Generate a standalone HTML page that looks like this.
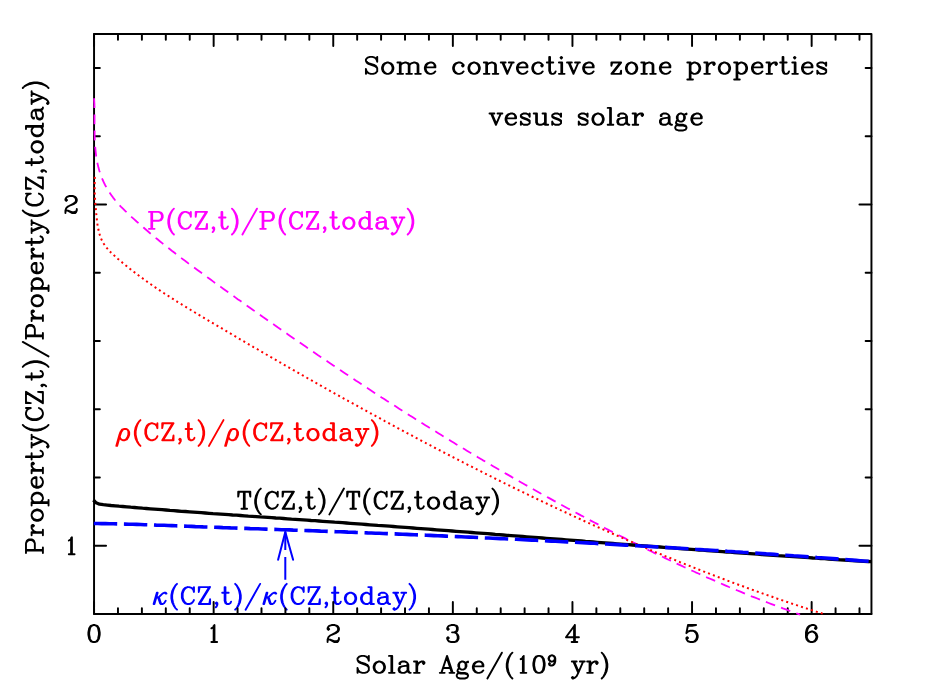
<!DOCTYPE html>
<html><head><meta charset="utf-8"><title>Convective zone properties versus solar age</title>
<style>
html,body{margin:0;padding:0;background:#fff;font-family:"Liberation Sans",sans-serif}
svg{display:block}
</style></head>
<body>
<svg width="926" height="692" viewBox="0 0 926 692" role="img" aria-label="Some convective zone properties vesus solar age">
<title>Some convective zone properties vesus solar age</title>
<desc>Property(CZ,t)/Property(CZ,today) against Solar Age/(10^9 yr). Curves: P(CZ,t)/P(CZ,today) magenta short-dashed; rho(CZ,t)/rho(CZ,today) red dotted; T(CZ,t)/T(CZ,today) black solid; kappa(CZ,t)/kappa(CZ,today) blue long-dashed.</desc>
<rect width="926" height="692" fill="#fff"/>
<defs>
<path id="g879" d="M4 -16 2 -14 0 -11 -2 -7 -3 -2 -3 2 -2 7 0 11 2 14 4 16M2 -14 0 -10 -1 -7 -2 -2 -2 2 -1 7 0 10 2 14"/>
<path id="g880" d="M-4 -16 -2 -14 0 -11 2 -7 3 -2 3 2 2 7 0 11 -2 14 -4 16M-2 -14 0 -10 1 -7 2 -2 2 2 1 7 0 10 -2 14"/>
<path id="g402" d="M0 9 -1 8 0 7 1 8 1 10 0 12 -1 13"/>
<path id="g230" d="M9 -16 -9 16"/>
<path id="g1024" d="M-1 -12 -4 -11 -6 -8 -7 -3 -7 0 -6 5 -4 8 -1 9 1 9 4 8 6 5 7 0 7 -3 6 -8 4 -11 1 -12 -1 -12M-1 -12 -3 -11 -4 -10 -5 -8 -6 -3 -6 0 -5 5 -4 7 -3 8 -1 9M1 9 3 8 4 7 5 5 6 0 6 -3 5 -8 4 -10 3 -11 1 -12"/>
<path id="g400" d="M-2.8 -8 -0.8 -9 1 -12 1 9M0 -11 0 9M-2.8 9 4.3 9"/>
<path id="g1025" d="M-6 -8 -5 -7 -6 -6 -7 -7 -7 -8 -6 -10 -5 -11 -2 -12 2 -12 5 -11 6 -10 7 -8 7 -6 6 -4 3 -2 -2 0 -4 1 -6 3 -7 6 -7 9M2 -12 4 -11 5 -10 6 -8 6 -6 5 -4 2 -2 -2 0M-7 7 -6 6 -4 6 1 8 4 8 6 7 7 6M-4 6 1 9 5 9 6 8 7 6 7 4"/>
<path id="g1026" d="M-6 -8 -5 -7 -6 -6 -7 -7 -7 -8 -6 -10 -5 -11 -2 -12 2 -12 5 -11 6 -9 6 -6 5 -4 2 -3 -1 -3M2 -12 4 -11 5 -9 5 -6 4 -4 2 -3M2 -3 4 -2 6 0 7 2 7 5 6 7 5 8 2 9 -2 9 -5 8 -6 7 -7 5 -7 4 -6 3 -5 4 -6 5M5 -1 6 2 6 5 5 7 4 8 2 9"/>
<path id="g401" d="M2 -10 2 9M3 -12 3 9M3 -12 -8 3 8 3M-1 9 6 9"/>
<path id="g1027" d="M-5 -12 -7 -2M-7 -2 -5 -4 -2 -5 1 -5 4 -4 6 -2 7 1 7 3 6 6 4 8 1 9 -2 9 -5 8 -6 7 -7 5 -7 4 -6 3 -5 4 -6 5M1 -5 3 -4 5 -2 6 1 6 3 5 6 3 8 1 9M-5 -12 5 -12M-5 -11 0 -11 5 -12"/>
<path id="g1028" d="M5 -9 4 -8 5 -7 6 -8 6 -9 5 -11 3 -12 0 -12 -3 -11 -5 -9 -6 -7 -7 -3 -7 3 -6 6 -4 8 -1 9 1 9 4 8 6 6 7 3 7 2 6 -1 4 -3 1 -4 0 -4 -3 -3 -5 -1 -6 2M0 -12 -2 -11 -4 -9 -5 -7 -6 -3 -6 3 -5 6 -3 8 -1 9M1 9 3 8 5 6 6 3 6 2 5 -1 3 -3 1 -4"/>
<path id="g1031" d="M6 -5 5 -2 3 0 0 1 -1 1 -4 0 -6 -2 -7 -5 -7 -6 -6 -9 -4 -11 -1 -12 1 -12 4 -11 6 -9 7 -6 7 0 6 4 5 6 3 8 0 9 -3 9 -5 8 -6 6 -6 5 -5 4 -4 5 -5 6M-1 1 -3 0 -5 -2 -6 -5 -6 -6 -5 -9 -3 -11 -1 -12M1 -12 3 -11 5 -9 6 -6 6 0 5 4 4 6 2 8 0 9"/>
<path id="g886" d="M0 -12 -7 9M0 -12 7 9M0 -9 6 9M-5 3 4 3M-9 9 -3 9M3 9 9 9"/>
<path id="g888" d="M6 -9 7 -6 7 -12 6 -9 4 -11 1 -12 -1 -12 -4 -11 -6 -9 -7 -7 -8 -4 -8 1 -7 4 -6 6 -4 8 -1 9 1 9 4 8 6 6 7 4M-1 -12 -3 -11 -5 -9 -6 -7 -7 -4 -7 1 -6 4 -5 6 -3 8 -1 9"/>
<path id="g899" d="M-6 -12 -6 9M-5 -12 -5 9M-9 -12 3 -12 6 -11 7 -10 8 -8 8 -5 7 -3 6 -2 3 -1 -5 -1M3 -12 5 -11 6 -10 7 -8 7 -5 6 -3 5 -2 3 -1M-9 9 -2 9"/>
<path id="g902" d="M6 -9 7 -12 7 -6 6 -9 4 -11 1 -12 -2 -12 -5 -11 -7 -9 -7 -7 -6 -5 -5 -4 -3 -3 3 -1 5 0 7 2M-7 -7 -5 -5 -3 -4 3 -2 5 -1 6 0 7 2 7 6 5 8 2 9 -1 9 -4 8 -6 6 -7 3 -7 9 -6 6"/>
<path id="g381" d="M0 -12 0 9M1 -12 1 9M-6 -12 -7 -6 -7 -12 8 -12 8 -6 7 -12M-3 9 4 9"/>
<path id="g383" d="M6 -12 -7 9M7 -12 -6 9M-6 -12 -7 -6 -7 -12 7 -12M-7 9 7 9 7 3 6 9"/>
<path id="g938" d="M-4 -3 -4 -2 -5 -2 -5 -3 -4 -4 -2 -5 2 -5 4 -4 5 -3 6 -1 6 6 7 8 8 9M5 -3 5 6 6 8 8 9 9 9M5 -1 4 0 -2 1 -5 2 -6 4 -6 6 -5 8 -2 9 1 9 3 8 5 6M-2 1 -4 2 -5 4 -5 6 -4 8 -2 9"/>
<path id="g940" d="M5 -2 4 -1 5 0 6 -1 6 -2 4 -4 2 -5 -1 -5 -4 -4 -6 -2 -7 1 -7 3 -6 6 -4 8 -1 9 1 9 4 8 6 6M-1 -5 -3 -4 -5 -2 -6 1 -6 3 -5 6 -3 8 -1 9"/>
<path id="g941" d="M5 -12 5 9M6 -12 6 9M5 -2 3 -4 1 -5 -1 -5 -4 -4 -6 -2 -7 1 -7 3 -6 6 -4 8 -1 9 1 9 3 8 5 6M-1 -5 -3 -4 -5 -2 -6 1 -6 3 -5 6 -3 8 -1 9M2 -12 6 -12M5 9 9 9"/>
<path id="g942" d="M-6 1 6 1 6 -1 5 -3 4 -4 2 -5 -1 -5 -4 -4 -6 -2 -7 1 -7 3 -6 6 -4 8 -1 9 1 9 4 8 6 6M5 1 5 -2 4 -4M-1 -5 -3 -4 -5 -2 -6 1 -6 3 -5 6 -3 8 -1 9"/>
<path id="g944" d="M-1 -5 -3 -4 -4 -3 -5 -1 -5 1 -4 3 -3 4 -1 5 1 5 3 4 4 3 5 1 5 -1 4 -3 3 -4 1 -5 -1 -5M-3 -4 -4 -2 -4 2 -3 4M3 4 4 2 4 -2 3 -4M4 -3 5 -4 7 -5 7 -4 5 -4M-4 3 -5 4 -6 6 -6 7 -5 9 -2 10 3 10 6 11 7 12M-6 7 -5 8 -2 9 3 9 6 10 7 12 7 13 6 15 3 16 -3 16 -6 15 -7 13 -7 12 -6 10 -3 9"/>
<path id="g946" d="M0 -12 -1 -11 0 -10 1 -11 0 -12M0 -5 0 9M1 -5 1 9M-3 -5 1 -5M-3 9 4 9"/>
<path id="g394" d="M0 -12 0 9M1 -12 1 9M-3 -12 1 -12M-3 9 4 9"/>
<path id="g949" d="M-11 -5 -11 9M-10 -5 -10 9M-10 -2 -8 -4 -5 -5 -3 -5 0 -4 1 -2 1 9M-3 -5 -1 -4 0 -2 0 9M1 -2 3 -4 6 -5 8 -5 11 -4 12 -2 12 9M8 -5 10 -4 11 -2 11 9M-14 -5 -10 -5M-14 9 -7 9M-3 9 4 9M8 9 15 9"/>
<path id="g950" d="M-6 -5 -6 9M-5 -5 -5 9M-5 -2 -3 -4 0 -5 2 -5 5 -4 6 -2 6 9M2 -5 4 -4 5 -2 5 9M-9 -5 -5 -5M-9 9 -2 9M2 9 9 9"/>
<path id="g951" d="M-1 -5 -4 -4 -6 -2 -7 1 -7 3 -6 6 -4 8 -1 9 1 9 4 8 6 6 7 3 7 1 6 -2 4 -4 1 -5 -1 -5M-1 -5 -3 -4 -5 -2 -6 1 -6 3 -5 6 -3 8 -1 9M1 9 3 8 5 6 6 3 6 1 5 -2 3 -4 1 -5"/>
<path id="g952" d="M-6 -5 -6 16M-5 -5 -5 16M-5 -2 -3 -4 -1 -5 1 -5 4 -4 6 -2 7 1 7 3 6 6 4 8 1 9 -1 9 -3 8 -5 6M1 -5 3 -4 5 -2 6 1 6 3 5 6 3 8 1 9M-9 -5 -5 -5M-9 16 -2 16"/>
<path id="g954" d="M-4 -5 -4 9M-3 -5 -3 9M-3 1 -2 -2 0 -4 2 -5 5 -5 6 -4 6 -3 5 -2 4 -3 5 -4M-7 -5 -3 -5M-7 9 0 9"/>
<path id="g955" d="M5 -3 6 -5 6 -1 5 -3 4 -4 2 -5 -2 -5 -4 -4 -5 -3 -5 -1 -4 0 -2 1 3 3 5 4 6 5M-5 -2 -4 -1 -2 0 3 2 5 3 6 4 6 7 5 8 3 9 -1 9 -3 8 -4 7 -5 5 -5 9 -4 7"/>
<path id="g956" d="M-2 -12 -2 5 -1 8 1 9 3 9 5 8 6 6M-1 -12 -1 5 0 8 1 9M-5 -5 3 -5"/>
<path id="g957" d="M-6 -5 -6 6 -5 8 -2 9 0 9 3 8 5 6M-5 -5 -5 6 -4 8 -2 9M5 -5 5 9M6 -5 6 9M-9 -5 -5 -5M2 -5 6 -5M5 9 9 9"/>
<path id="g395" d="M-6 -5 0 9M-5 -5 0 7M6 -5 0 9M-8 -5 -2 -5M2 -5 8 -5"/>
<path id="g960" d="M-6 -5 0 9M-5 -5 0 7M6 -5 0 9 -2 13 -4 15 -6 16 -7 16 -8 15 -7 14 -6 15M-8 -5 -2 -5M2 -5 8 -5"/>
<path id="g396" d="M5 -5 -6 9M6 -5 -5 9M-5 -5 -6 -1 -6 -5 6 -5M-6 9 6 9 6 5 5 9"/>
<path id="g969" d="M-4 -5 -8 9M-3 -5 -7 9M6 -5 7 -4 8 -4 7 -5 5 -5 3 -4 -1 0 -3 1 -5 1M-3 1 -1 2 1 8 2 9M-3 1 -2 2 0 8 1 9 3 9 5 8 7 5"/>
<path id="g976" d="M-6 4 -5 7 -4 8 -2 9 0 9 3 8 5 5 6 2 6 -1 5 -3 4 -4 2 -5 0 -5 -3 -4 -5 -1 -6 2 -10 16M0 9 2 8 4 5 5 2 5 -2 4 -4M0 -5 -2 -4 -4 -1 -5 2 -9 16"/>
</defs>
<g fill="none" stroke-linecap="round" stroke-linejoin="round">
<g transform="translate(363.50 73.85) translate(0 -7.268) scale(0.8075)" stroke="#000" stroke-width="2.353">
<use href="#g902" x="10.00"/>
<use href="#g951" x="30.00"/>
<use href="#g949" x="56.00"/>
<use href="#g942" x="83.00"/>
<use href="#g940" x="118.00"/>
<use href="#g951" x="137.00"/>
<use href="#g950" x="158.00"/>
<use href="#g395" x="178.00"/>
<use href="#g942" x="197.00"/>
<use href="#g940" x="216.00"/>
<use href="#g956" x="232.00"/>
<use href="#g946" x="245.00"/>
<use href="#g395" x="260.00"/>
<use href="#g942" x="279.00"/>
<use href="#g396" x="313.00"/>
<use href="#g951" x="332.00"/>
<use href="#g950" x="353.00"/>
<use href="#g942" x="374.00"/>
<use href="#g952" x="410.00"/>
<use href="#g954" x="429.00"/>
<use href="#g951" x="447.00"/>
<use href="#g952" x="468.00"/>
<use href="#g942" x="488.00"/>
<use href="#g954" x="506.00"/>
<use href="#g956" x="521.00"/>
<use href="#g946" x="534.00"/>
<use href="#g942" x="550.00"/>
<use href="#g955" x="567.00"/>
</g>
<g transform="translate(488.70 124.80) translate(0 -7.236) scale(0.804)" stroke="#000" stroke-width="2.363">
<use href="#g395" x="9.00"/>
<use href="#g942" x="28.00"/>
<use href="#g955" x="45.00"/>
<use href="#g957" x="65.00"/>
<use href="#g955" x="84.00"/>
<use href="#g955" x="117.00"/>
<use href="#g951" x="136.00"/>
<use href="#g394" x="151.00"/>
<use href="#g938" x="166.00"/>
<use href="#g954" x="186.00"/>
<use href="#g938" x="219.00"/>
<use href="#g944" x="239.00"/>
<use href="#g942" x="259.00"/>
</g>
<g transform="translate(355.10 672.85) translate(0 -7.259) scale(0.8066)" stroke="#000" stroke-width="2.356">
<use href="#g902" x="10.00"/>
<use href="#g951" x="30.00"/>
<use href="#g394" x="45.00"/>
<use href="#g938" x="60.00"/>
<use href="#g954" x="80.00"/>
<use href="#g886" x="114.00"/>
<use href="#g944" x="133.00"/>
<use href="#g942" x="153.00"/>
<use href="#g230" x="173.00"/>
<use href="#g879" x="191.00"/>
<use href="#g400" x="208.00"/>
<use href="#g1024" x="228.00"/>
<use href="#g1031" transform="translate(244.00 -5.50) scale(0.6)" stroke-width="3.926"/>
<use href="#g960" x="276.70"/>
<use href="#g954" x="294.70"/>
<use href="#g880" x="309.70"/>
</g>
<g transform="translate(94.05 642.05) translate(0 -7.290) scale(0.81)" stroke="#000" stroke-width="2.346">
<use href="#g1024" x="0.00"/>
</g>
<g transform="translate(213.65 642.05) translate(0 -7.290) scale(0.81)" stroke="#000" stroke-width="2.346">
<use href="#g400" x="0.00"/>
</g>
<g transform="translate(333.25 642.05) translate(0 -7.290) scale(0.81)" stroke="#000" stroke-width="2.346">
<use href="#g1025" x="0.00"/>
</g>
<g transform="translate(452.85 642.05) translate(0 -7.290) scale(0.81)" stroke="#000" stroke-width="2.346">
<use href="#g1026" x="0.00"/>
</g>
<g transform="translate(572.45 642.05) translate(0 -7.290) scale(0.81)" stroke="#000" stroke-width="2.346">
<use href="#g401" x="0.00"/>
</g>
<g transform="translate(692.05 642.05) translate(0 -7.290) scale(0.81)" stroke="#000" stroke-width="2.346">
<use href="#g1027" x="0.00"/>
</g>
<g transform="translate(811.65 642.05) translate(0 -7.290) scale(0.81)" stroke="#000" stroke-width="2.346">
<use href="#g1028" x="0.00"/>
</g>
<g transform="translate(71.10 213.02) translate(0 -7.290) scale(0.81)" stroke="#000" stroke-width="2.346">
<use href="#g1025" x="0.00"/>
</g>
<g transform="translate(71.10 554.26) translate(0 -7.290) scale(0.81)" stroke="#000" stroke-width="2.346">
<use href="#g400" x="0.00"/>
</g>
<g transform="translate(42.90 554.67) rotate(-90) translate(0 -7.254) scale(0.806)" stroke="#000" stroke-width="2.357">
<use href="#g899" x="11.00"/>
<use href="#g954" x="31.00"/>
<use href="#g951" x="49.00"/>
<use href="#g952" x="70.00"/>
<use href="#g942" x="90.00"/>
<use href="#g954" x="108.00"/>
<use href="#g956" x="123.00"/>
<use href="#g960" x="141.00"/>
<use href="#g879" x="157.00"/>
<use href="#g888" x="175.00"/>
<use href="#g383" x="195.00"/>
<use href="#g402" x="210.00"/>
<use href="#g956" x="222.00"/>
<use href="#g880" x="237.00"/>
<use href="#g230" x="255.00"/>
<use href="#g899" x="277.00"/>
<use href="#g954" x="297.00"/>
<use href="#g951" x="315.00"/>
<use href="#g952" x="336.00"/>
<use href="#g942" x="356.00"/>
<use href="#g954" x="374.00"/>
<use href="#g956" x="389.00"/>
<use href="#g960" x="407.00"/>
<use href="#g879" x="423.00"/>
<use href="#g888" x="441.00"/>
<use href="#g383" x="461.00"/>
<use href="#g402" x="476.00"/>
<use href="#g956" x="488.00"/>
<use href="#g951" x="506.00"/>
<use href="#g941" x="526.00"/>
<use href="#g938" x="546.00"/>
<use href="#g960" x="567.00"/>
<use href="#g880" x="583.00"/>
</g>
<g transform="translate(147.33 228.85) translate(0 -7.254) scale(0.806)" stroke="#ff00ff" stroke-width="2.357">
<use href="#g899" x="11.00"/>
<use href="#g879" x="29.00"/>
<use href="#g888" x="47.00"/>
<use href="#g383" x="67.00"/>
<use href="#g402" x="82.00"/>
<use href="#g956" x="94.00"/>
<use href="#g880" x="109.00"/>
<use href="#g230" x="127.00"/>
<use href="#g899" x="149.00"/>
<use href="#g879" x="167.00"/>
<use href="#g888" x="185.00"/>
<use href="#g383" x="205.00"/>
<use href="#g402" x="220.00"/>
<use href="#g956" x="232.00"/>
<use href="#g951" x="250.00"/>
<use href="#g941" x="270.00"/>
<use href="#g938" x="290.00"/>
<use href="#g960" x="311.00"/>
<use href="#g880" x="327.00"/>
</g>
<g transform="translate(116.30 440.25) translate(0 -7.254) scale(0.806)" stroke="#ff0000" stroke-width="2.357">
<use href="#g976" x="10.00"/>
<use href="#g879" x="26.00"/>
<use href="#g888" x="44.00"/>
<use href="#g383" x="64.00"/>
<use href="#g402" x="79.00"/>
<use href="#g956" x="91.00"/>
<use href="#g880" x="106.00"/>
<use href="#g230" x="124.00"/>
<use href="#g976" x="145.00"/>
<use href="#g879" x="161.00"/>
<use href="#g888" x="179.00"/>
<use href="#g383" x="199.00"/>
<use href="#g402" x="214.00"/>
<use href="#g956" x="226.00"/>
<use href="#g951" x="244.00"/>
<use href="#g941" x="264.00"/>
<use href="#g938" x="284.00"/>
<use href="#g960" x="305.00"/>
<use href="#g880" x="321.00"/>
</g>
<g transform="translate(236.60 508.75) translate(0 -7.263) scale(0.807)" stroke="#000" stroke-width="2.354">
<use href="#g381" x="9.00"/>
<use href="#g879" x="26.00"/>
<use href="#g888" x="44.00"/>
<use href="#g383" x="64.00"/>
<use href="#g402" x="79.00"/>
<use href="#g956" x="91.00"/>
<use href="#g880" x="106.00"/>
<use href="#g230" x="124.00"/>
<use href="#g381" x="144.00"/>
<use href="#g879" x="161.00"/>
<use href="#g888" x="179.00"/>
<use href="#g383" x="199.00"/>
<use href="#g402" x="214.00"/>
<use href="#g956" x="226.00"/>
<use href="#g951" x="244.00"/>
<use href="#g941" x="264.00"/>
<use href="#g938" x="284.00"/>
<use href="#g960" x="305.00"/>
<use href="#g880" x="321.00"/>
</g>
<g transform="translate(152.00 604.05) translate(0 -7.263) scale(0.807)" stroke="#0000ff" stroke-width="2.354">
<use href="#g969" x="10.00"/>
<use href="#g879" x="27.00"/>
<use href="#g888" x="45.00"/>
<use href="#g383" x="65.00"/>
<use href="#g402" x="80.00"/>
<use href="#g956" x="92.00"/>
<use href="#g880" x="107.00"/>
<use href="#g230" x="125.00"/>
<use href="#g969" x="146.00"/>
<use href="#g879" x="163.00"/>
<use href="#g888" x="181.00"/>
<use href="#g383" x="201.00"/>
<use href="#g402" x="216.00"/>
<use href="#g956" x="228.00"/>
<use href="#g951" x="246.00"/>
<use href="#g941" x="266.00"/>
<use href="#g938" x="286.00"/>
<use href="#g960" x="307.00"/>
<use href="#g880" x="323.00"/>
</g>
</g>
<g fill="none" stroke="#000" stroke-width="1.95" stroke-linecap="round" stroke-linejoin="round">
<path d="M94.05 33.9H871.45V614.0H94.05Z"/>
<path d="M94.05 614.0v-12.0M94.05 33.9v12.0M117.97 614.0v-5.8M117.97 33.9v5.8M141.89 614.0v-5.8M141.89 33.9v5.8M165.81 614.0v-5.8M165.81 33.9v5.8M189.73 614.0v-5.8M189.73 33.9v5.8M213.65 614.0v-12.0M213.65 33.9v12.0M237.57 614.0v-5.8M237.57 33.9v5.8M261.49 614.0v-5.8M261.49 33.9v5.8M285.41 614.0v-5.8M285.41 33.9v5.8M309.33 614.0v-5.8M309.33 33.9v5.8M333.25 614.0v-12.0M333.25 33.9v12.0M357.17 614.0v-5.8M357.17 33.9v5.8M381.09 614.0v-5.8M381.09 33.9v5.8M405.01 614.0v-5.8M405.01 33.9v5.8M428.93 614.0v-5.8M428.93 33.9v5.8M452.85 614.0v-12.0M452.85 33.9v12.0M476.77 614.0v-5.8M476.77 33.9v5.8M500.69 614.0v-5.8M500.69 33.9v5.8M524.61 614.0v-5.8M524.61 33.9v5.8M548.53 614.0v-5.8M548.53 33.9v5.8M572.45 614.0v-12.0M572.45 33.9v12.0M596.37 614.0v-5.8M596.37 33.9v5.8M620.29 614.0v-5.8M620.29 33.9v5.8M644.21 614.0v-5.8M644.21 33.9v5.8M668.13 614.0v-5.8M668.13 33.9v5.8M692.05 614.0v-12.0M692.05 33.9v12.0M715.97 614.0v-5.8M715.97 33.9v5.8M739.89 614.0v-5.8M739.89 33.9v5.8M763.81 614.0v-5.8M763.81 33.9v5.8M787.73 614.0v-5.8M787.73 33.9v5.8M811.65 614.0v-12.0M811.65 33.9v12.0M835.57 614.0v-5.8M835.57 33.9v5.8M859.49 614.0v-5.8M859.49 33.9v5.8M94.05 614.00h5.8M871.45 614.00h-5.8M94.05 545.75h12.0M871.45 545.75h-12.0M94.05 477.51h5.8M871.45 477.51h-5.8M94.05 409.26h5.8M871.45 409.26h-5.8M94.05 341.01h5.8M871.45 341.01h-5.8M94.05 272.76h5.8M871.45 272.76h-5.8M94.05 204.52h12.0M871.45 204.52h-12.0M94.05 136.27h5.8M871.45 136.27h-5.8M94.05 68.02h5.8M871.45 68.02h-5.8"/>
</g>
<g fill="none" stroke-linecap="butt" stroke-linejoin="round">
<path d="M94.1 98.2 94.2 101.0 94.4 104.0 94.4 106.9 94.5 109.9 94.5 112.9 94.5 116.0 94.5 119.0 94.5 122.1 94.5 125.2 94.5 128.3 94.6 131.4 94.6 134.5 94.7 137.6 94.8 140.7 95.0 143.8 95.2 146.9 95.5 150.0 95.8 153.1 96.2 156.1 96.7 159.2 97.2 162.2 97.9 165.2 98.6 168.1 99.4 171.0 100.4 173.9 101.4 176.8 102.5 179.5 103.8 182.3 105.1 185.0 106.5 187.6 108.0 190.2 109.7 192.7 111.4 195.2 113.1 197.6 115.0 200.0 117.0 202.3 119.0 204.6 121.1 206.8 123.2 208.9 125.4 211.1 127.6 213.2 129.8 215.3 132.0 217.4 134.3 219.4 136.6 221.5 138.9 223.5 141.2 225.5 143.5 227.5 145.8 229.5 148.1 231.5 150.4 233.5 152.8 235.4 155.1 237.4 157.5 239.3 159.8 241.2 162.2 243.1 164.6 245.0 167.0 246.9 169.4 248.8 171.8 250.7 174.2 252.5 176.6 254.4 179.0 256.3 181.4 258.1 183.9 259.9 186.3 261.8 188.7 263.6 191.2 265.4 193.6 267.2 196.1 269.0 198.5 270.8 201.0 272.6 203.5 274.4 205.9 276.2 208.4 278.0 210.9 279.8 213.3 281.6 215.8 283.4 218.3 285.2 220.8 286.9 223.2 288.7 225.7 290.5 228.2 292.3 230.7 294.0 233.2 295.8 235.6 297.6 238.1 299.4 240.6 301.1 243.1 302.9 245.6 304.7 248.1 306.4 250.6 308.2 253.0 309.9 255.5 311.7 258.0 313.5 260.5 315.2 263.0 317.0 265.5 318.7 268.0 320.5 270.5 322.2 273.0 324.0 275.5 325.7 278.0 327.5 280.5 329.2 283.0 331.0 285.5 332.7 288.0 334.4 290.5 336.2 293.0 337.9 295.5 339.6 298.0 341.4 300.5 343.1 303.0 344.8 305.6 346.6 308.1 348.3 310.6 350.0 313.1 351.7 315.6 353.4 318.1 355.2 320.7 356.9 323.2 358.6 325.7 360.3 328.2 362.0 330.8 363.7 333.3 365.4 335.8 367.1 338.4 368.8 340.9 370.5 343.4 372.2 346.0 373.9 348.5 375.6 351.0 377.3 353.6 379.0 356.1 380.7 358.6 382.3 361.2 384.0 363.7 385.7 366.3 387.4 368.8 389.0 371.4 390.7 373.9 392.4 376.5 394.1 379.0 395.7 381.6 397.4 384.2 399.0 386.7 400.7 389.3 402.3 391.8 404.0 394.4 405.6 397.0 407.3 399.5 408.9 402.1 410.6 404.7 412.2 407.3 413.8 409.8 415.5 412.4 417.1 415.0 418.7 417.6 420.4 420.1 422.0 422.7 423.6 425.3 425.2 427.9 426.8 430.5 428.4 433.1 430.0 435.7 431.6 438.3 433.2 440.9 434.8 443.5 436.4 446.1 438.0 448.7 439.6 451.3 441.2 453.9 442.8 456.5 444.4 459.1 446.0 461.7 447.5 464.3 449.1 466.9 450.7 469.5 452.3 472.1 453.8 474.8 455.4 477.4 456.9 480.0 458.5 482.6 460.1 485.3 461.6 487.9 463.1 490.5 464.7 493.1 466.2 495.8 467.8 498.4 469.3 501.0 470.8 503.7 472.4 506.3 473.9 509.0 475.4 511.6 476.9 514.2 478.5 516.9 480.0 519.5 481.5 522.2 483.0 524.8 484.5 527.5 486.0 530.2 487.5 532.8 489.0 535.5 490.5 538.1 492.0 540.8 493.5 543.5 494.9 546.1 496.4 548.8 497.9 551.5 499.4 554.1 500.9 556.8 502.3 559.5 503.8 562.1 505.2 564.8 506.7 567.5 508.2 570.2 509.6 572.9 511.1 575.6 512.5 578.2 513.9 580.9 515.4 583.6 516.8 586.3 518.3 589.0 519.7 591.7 521.1 594.4 522.5 597.1 523.9 599.8 525.4 602.5 526.8 605.2 528.2 607.9 529.6 610.6 531.0 613.3 532.4 616.0 533.8 618.8 535.2 621.5 536.5 624.2 537.9 626.9 539.3 629.6 540.7 632.4 542.1 635.1 543.4 637.8 544.8 640.5 546.1 643.3 547.5 646.0 548.8 648.7 550.2 651.5 551.5 654.2 552.9 657.0 554.2 659.7 555.5 662.5 556.8 665.2 558.1 668.0 559.5 670.7 560.8 673.5 562.1 676.2 563.4 679.0 564.6 681.8 565.9 684.5 567.2 687.3 568.5 690.1 569.8 692.8 571.0 695.6 572.3 698.4 573.5 701.2 574.8 703.9 576.0 706.7 577.3 709.5 578.5 712.3 579.7 715.1 580.9 717.9 582.2 720.7 583.4 723.5 584.6 726.3 585.8 729.1 587.0 731.9 588.1 734.7 589.3 737.5 590.5 740.4 591.7 743.2 592.8 746.0 594.0 748.8 595.1 751.6 596.3 754.5 597.4 757.3 598.5 760.1 599.7 763.0 600.8 765.8 601.9 768.7 603.0 771.5 604.1 774.4 605.2 777.2 606.2 780.1 607.3 782.9 608.4 785.8 609.4 788.7 610.5 791.5 611.5 794.4 612.6 797.3 613.6 800.1 614.6" stroke="#ff00ff" stroke-width="1.8" stroke-dasharray="9.8 6.4"/>
<path d="M94.8 176.9 94.7 180.0 94.7 183.0 94.6 185.9 94.7 188.9 94.7 191.8 94.8 194.7 95.0 197.5 95.1 200.4 95.3 203.3 95.6 206.1 95.8 209.0 96.1 212.0 96.4 215.0 96.7 218.0 97.0 221.0 97.4 224.1 97.9 227.1 98.5 230.1 99.2 233.1 100.1 235.9 101.1 238.7 102.3 241.3 103.8 243.8 105.4 246.2 107.2 248.4 109.1 250.6 111.2 252.7 113.3 254.7 115.5 256.7 117.7 258.7 120.0 260.6 122.2 262.5 124.5 264.4 126.8 266.2 129.1 268.1 131.4 269.9 133.7 271.7 136.1 273.5 138.4 275.3 140.8 277.0 143.2 278.8 145.5 280.5 147.9 282.2 150.3 283.9 152.8 285.6 155.2 287.3 157.6 288.9 160.1 290.6 162.5 292.2 165.0 293.8 167.5 295.4 169.9 297.0 172.4 298.6 174.9 300.2 177.4 301.8 179.9 303.3 182.4 304.9 184.9 306.4 187.4 308.0 190.0 309.5 192.5 311.0 195.0 312.5 197.5 314.1 200.1 315.6 202.6 317.1 205.1 318.6 207.7 320.1 210.2 321.6 212.8 323.1 215.3 324.6 217.9 326.1 220.4 327.6 223.0 329.1 225.5 330.6 228.0 332.1 230.6 333.6 233.1 335.1 235.7 336.6 238.2 338.1 240.8 339.6 243.3 341.1 245.9 342.6 248.4 344.1 251.0 345.6 253.5 347.1 256.1 348.5 258.6 350.0 261.2 351.5 263.8 353.0 266.3 354.5 268.9 356.0 271.4 357.4 274.0 358.9 276.5 360.4 279.1 361.9 281.7 363.3 284.2 364.8 286.8 366.3 289.4 367.8 291.9 369.2 294.5 370.7 297.1 372.2 299.6 373.6 302.2 375.1 304.8 376.5 307.3 378.0 309.9 379.5 312.5 380.9 315.0 382.4 317.6 383.8 320.2 385.3 322.7 386.7 325.3 388.2 327.9 389.6 330.5 391.1 333.1 392.5 335.6 394.0 338.2 395.4 340.8 396.8 343.4 398.3 345.9 399.7 348.5 401.2 351.1 402.6 353.7 404.0 356.3 405.4 358.9 406.9 361.5 408.3 364.0 409.7 366.6 411.1 369.2 412.6 371.8 414.0 374.4 415.4 377.0 416.8 379.6 418.2 382.2 419.6 384.8 421.1 387.4 422.5 390.0 423.9 392.6 425.3 395.2 426.7 397.8 428.1 400.4 429.5 403.0 430.9 405.6 432.3 408.2 433.7 410.8 435.0 413.4 436.4 416.0 437.8 418.6 439.2 421.2 440.6 423.8 442.0 426.4 443.3 429.0 444.7 431.7 446.1 434.3 447.5 436.9 448.8 439.5 450.2 442.1 451.6 444.7 452.9 447.4 454.3 450.0 455.6 452.6 457.0 455.2 458.3 457.9 459.7 460.5 461.0 463.1 462.4 465.7 463.7 468.4 465.1 471.0 466.4 473.6 467.7 476.3 469.1 478.9 470.4 481.5 471.7 484.2 473.1 486.8 474.4 489.4 475.7 492.1 477.0 494.7 478.3 497.4 479.6 500.0 481.0 502.6 482.3 505.3 483.6 507.9 484.9 510.6 486.2 513.2 487.5 515.9 488.8 518.5 490.1 521.2 491.3 523.8 492.6 526.5 493.9 529.2 495.2 531.8 496.5 534.5 497.8 537.1 499.0 539.8 500.3 542.5 501.6 545.1 502.8 547.8 504.1 550.5 505.4 553.1 506.6 555.8 507.9 558.5 509.1 561.1 510.4 563.8 511.6 566.5 512.8 569.2 514.1 571.8 515.3 574.5 516.6 577.2 517.8 579.9 519.0 582.6 520.2 585.2 521.5 587.9 522.7 590.6 523.9 593.3 525.1 596.0 526.3 598.7 527.5 601.4 528.7 604.1 529.9 606.8 531.1 609.5 532.3 612.2 533.5 614.9 534.7 617.6 535.9 620.3 537.0 623.0 538.2 625.7 539.4 628.4 540.6 631.1 541.7 633.8 542.9 636.5 544.1 639.2 545.2 641.9 546.4 644.7 547.5 647.4 548.7 650.1 549.8 652.8 550.9 655.5 552.1 658.3 553.2 661.0 554.3 663.7 555.5 666.4 556.6 669.2 557.7 671.9 558.8 674.6 559.9 677.4 561.0 680.1 562.2 682.9 563.3 685.6 564.4 688.3 565.4 691.1 566.5 693.8 567.6 696.6 568.7 699.3 569.8 702.1 570.9 704.8 571.9 707.6 573.0 710.3 574.1 713.1 575.1 715.8 576.2 718.6 577.2 721.3 578.3 724.1 579.3 726.9 580.4 729.6 581.4 732.4 582.5 735.2 583.5 737.9 584.5 740.7 585.5 743.5 586.5 746.3 587.6 749.0 588.6 751.8 589.6 754.6 590.6 757.4 591.6 760.2 592.6 763.0 593.6 765.7 594.6 768.5 595.5 771.3 596.5 774.1 597.5 776.9 598.5 779.7 599.4 782.5 600.4 785.3 601.4 788.1 602.3 790.9 603.3 793.7 604.2 796.5 605.1 799.3 606.1 802.1 607.0 805.0 607.9 807.8 608.9 810.6 609.8 813.4 610.7 816.2 611.6 819.0 612.5 821.9 613.4 824.7 614.3" stroke="#ff0000" stroke-width="2.0" stroke-dasharray="2.0 3.2"/>
<path d="M93.4 500.0 96.1 502.8 99.5 504.2 103.3 504.7 107.2 505.1 111.1 505.5 115.1 505.8 119.0 506.2 122.9 506.5 126.8 506.8 130.7 507.2 134.6 507.5 138.5 507.8 142.5 508.2 146.4 508.5 150.3 508.8 154.2 509.1 158.1 509.4 162.0 509.7 166.0 510.0 169.9 510.4 173.8 510.7 177.7 511.0 181.6 511.3 185.6 511.5 189.5 511.8 193.4 512.1 197.3 512.4 201.2 512.7 205.2 513.0 209.1 513.3 213.0 513.6 216.9 513.8 220.8 514.1 224.8 514.4 228.7 514.7 232.6 515.0 236.5 515.2 240.5 515.5 244.4 515.8 248.3 516.1 252.2 516.3 256.1 516.6 260.1 516.9 264.0 517.1 267.9 517.4 271.8 517.7 275.8 518.0 279.7 518.2 283.6 518.5 287.5 518.8 291.5 519.1 295.4 519.3 299.3 519.6 303.2 519.9 307.1 520.2 311.1 520.5 315.0 520.7 318.9 521.0 322.8 521.3 326.8 521.6 330.7 521.9 334.6 522.2 338.5 522.4 342.4 522.7 346.4 523.0 350.3 523.3 354.2 523.6 358.1 523.9 362.0 524.2 366.0 524.5 369.9 524.8 373.8 525.1 377.7 525.4 381.6 525.6 385.6 525.9 389.5 526.2 393.4 526.5 397.3 526.8 401.3 527.1 405.2 527.4 409.1 527.7 413.0 528.0 416.9 528.3 420.9 528.6 424.8 528.9 428.7 529.2 432.6 529.5 436.5 529.8 440.5 530.1 444.4 530.4 448.3 530.7 452.2 531.0 456.1 531.3 460.0 531.6 464.0 531.9 467.9 532.2 471.8 532.5 475.7 532.8 479.6 533.1 483.6 533.4 487.5 533.7 491.4 534.0 495.3 534.4 499.2 534.7 503.2 535.0 507.1 535.3 511.0 535.6 514.9 535.9 518.8 536.2 522.8 536.5 526.7 536.8 530.6 537.1 534.5 537.4 538.4 537.7 542.3 538.0 546.3 538.3 550.2 538.6 554.1 538.9 558.0 539.2 561.9 539.5 565.9 539.8 569.8 540.1 573.7 540.4 577.6 540.7 581.5 541.0 585.5 541.4 589.4 541.7 593.3 542.0 597.2 542.3 601.1 542.6 605.1 542.9 609.0 543.2 612.9 543.5 616.8 543.8 620.7 544.1 624.6 544.4 628.6 544.7 632.5 545.0 636.4 545.3 640.3 545.6 644.2 545.9 648.2 546.2 652.1 546.4 656.0 546.7 659.9 547.0 663.8 547.3 667.8 547.6 671.7 547.9 675.6 548.2 679.5 548.5 683.4 548.8 687.4 549.1 691.3 549.4 695.2 549.7 699.1 550.0 703.0 550.2 707.0 550.5 710.9 550.8 714.8 551.1 718.7 551.4 722.6 551.7 726.6 552.0 730.5 552.2 734.4 552.5 738.3 552.8 742.3 553.1 746.2 553.4 750.1 553.6 754.0 553.9 757.9 554.2 761.9 554.5 765.8 554.8 769.7 555.0 773.6 555.3 777.5 555.6 781.5 555.8 785.4 556.1 789.3 556.4 793.2 556.6 797.2 556.9 801.1 557.2 805.0 557.4 808.9 557.7 812.8 558.0 816.8 558.2 820.7 558.5 824.6 558.7 828.5 559.0 832.5 559.3 836.4 559.5 840.3 559.8 844.2 560.0 848.2 560.3 852.1 560.5 856.0 560.8 859.9 561.0 863.9 561.3 867.8 561.5 871.7 561.7" stroke="#000" stroke-width="3.3" stroke-linecap="butt"/>
<path d="M93.8 523.5 97.7 523.5 101.6 523.6 105.5 523.6 109.4 523.7 113.3 523.8 117.2 523.9 121.1 524.0 125.0 524.1 128.9 524.2 132.8 524.3 136.7 524.4 140.6 524.5 144.5 524.7 148.4 524.8 152.3 524.9 156.2 525.1 160.1 525.2 164.1 525.3 168.0 525.5 171.9 525.6 175.8 525.8 179.7 525.9 183.6 526.1 187.6 526.2 191.5 526.4 195.4 526.6 199.3 526.7 203.2 526.9 207.1 527.0 211.0 527.1 215.0 527.3 218.9 527.4 222.8 527.6 226.7 527.7 230.6 527.9 234.5 528.0 238.4 528.2 242.4 528.3 246.3 528.4 250.2 528.6 254.1 528.7 258.0 528.8 261.9 529.0 265.8 529.1 269.7 529.3 273.7 529.4 277.6 529.5 281.5 529.7 285.4 529.8 289.3 529.9 293.2 530.1 297.1 530.2 301.0 530.4 305.0 530.5 308.9 530.6 312.8 530.8 316.7 530.9 320.6 531.1 324.5 531.2 328.4 531.4 332.3 531.5 336.2 531.7 340.2 531.8 344.1 531.9 348.0 532.1 351.9 532.2 355.8 532.4 359.7 532.5 363.6 532.7 367.5 532.9 371.5 533.0 375.4 533.2 379.3 533.3 383.2 533.5 387.1 533.6 391.0 533.8 394.9 533.9 398.8 534.1 402.7 534.3 406.7 534.4 410.6 534.6 414.5 534.8 418.4 534.9 422.3 535.1 426.2 535.2 430.1 535.4 434.0 535.6 437.9 535.8 441.9 535.9 445.8 536.1 449.7 536.3 453.6 536.4 457.5 536.6 461.4 536.8 465.3 537.0 469.2 537.1 473.1 537.3 477.1 537.5 481.0 537.7 484.9 537.9 488.8 538.0 492.7 538.2 496.6 538.4 500.5 538.6 504.4 538.8 508.3 539.0 512.2 539.1 516.2 539.3 520.1 539.5 524.0 539.7 527.9 539.9 531.8 540.1 535.7 540.3 539.6 540.5 543.5 540.7 547.4 540.9 551.3 541.1 555.3 541.3 559.2 541.5 563.1 541.7 567.0 541.9 570.9 542.1 574.8 542.3 578.7 542.5 582.6 542.7 586.5 542.9 590.4 543.1 594.4 543.3 598.3 543.6 602.2 543.8 606.1 544.0 610.0 544.2 613.9 544.4 617.8 544.6 621.7 544.9 625.6 545.1 629.5 545.3 633.4 545.5 637.4 545.7 641.3 546.0 645.2 546.2 649.1 546.4 653.0 546.7 656.9 546.9 660.8 547.1 664.7 547.4 668.6 547.6 672.5 547.8 676.4 548.1 680.3 548.3 684.2 548.5 688.2 548.8 692.1 549.0 696.0 549.3 699.9 549.5 703.8 549.8 707.7 550.0 711.6 550.2 715.5 550.5 719.4 550.7 723.3 551.0 727.2 551.3 731.1 551.5 735.0 551.8 738.9 552.0 742.8 552.3 746.8 552.5 750.7 552.8 754.6 553.1 758.5 553.3 762.4 553.6 766.3 553.9 770.2 554.1 774.1 554.4 778.0 554.7 781.9 554.9 785.8 555.2 789.7 555.5 793.6 555.8 797.5 556.0 801.4 556.3 805.3 556.6 809.2 556.9 813.1 557.2 817.0 557.5 821.0 557.7 824.9 558.0 828.8 558.3 832.7 558.6 836.6 558.9 840.5 559.2 844.4 559.5 848.3 559.8 852.2 560.1 856.1 560.4 860.0 560.7 863.9 561.0 867.8 561.3 871.7 561.6" stroke="#0000ff" stroke-width="3.6" stroke-dasharray="23.4 6.7" stroke-linecap="butt"/>
<path d="M285.3 579.7V531.5" stroke="#0000ff" stroke-width="2" stroke-dasharray="22.8 7" stroke-linecap="butt"/>
<path d="M278.1 559.7L285.3 532.0L293.1 559.7" stroke="#0000ff" stroke-width="2" stroke-linejoin="round" stroke-linecap="round"/>
</g>
</svg>
</body></html>
